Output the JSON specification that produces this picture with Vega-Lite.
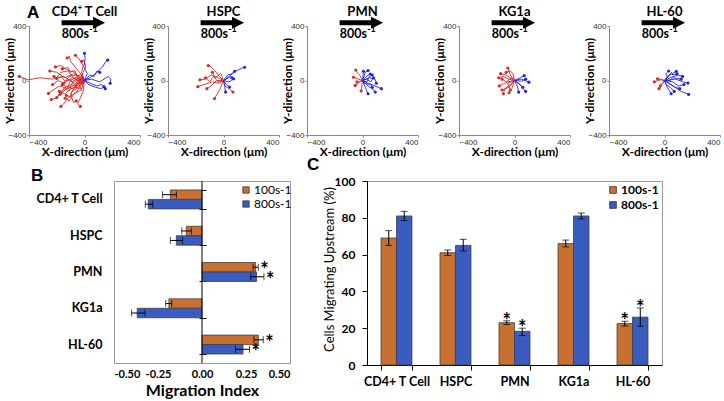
{
"$schema":"https://vega.github.io/schema/vega-lite/v6.json",
"background":"white",
"padding":{"left":3,"top":3,"right":0,"bottom":0},
"config":{"view":{"stroke":null},"font":"Lato","axis":{"grid":false,"labelOverlap":false},"title":{"color":"black"}},
"title":{"text":"A","anchor":"start","frame":"group","dx":-2,"dy":29,"baseline":"alphabetic","fontSize":17,"fontWeight":"bold","font":"Liberation Sans","offset":0},
"datasets":{
"tracks":[
{"p":"CD4","t":1,"i":0,"x":0,"y":0,"c":"r"},{"p":"CD4","t":1,"i":1,"x":-40,"y":20,"c":"r"},{"p":"CD4","t":1,"i":2,"x":-90,"y":-10,"c":"r"},{"p":"CD4","t":1,"i":3,"x":-150,"y":30,"c":"r"},{"p":"CD4","t":1,"i":4,"x":-230,"y":10,"c":"r"},{"p":"CD4","t":1,"i":5,"x":-320,"y":20,"c":"r"},{"p":"CD4","t":1,"i":6,"x":-410,"y":5,"c":"r"},{"p":"CD4","t":1,"i":7,"x":-470,"y":30,"c":"r","e":1},
{"p":"CD4","t":2,"i":0,"x":0,"y":0,"c":"r"},{"p":"CD4","t":2,"i":1,"x":-30,"y":-40,"c":"r"},{"p":"CD4","t":2,"i":2,"x":-60,"y":-90,"c":"r"},{"p":"CD4","t":2,"i":3,"x":-110,"y":-120,"c":"r"},{"p":"CD4","t":2,"i":4,"x":-150,"y":-170,"c":"r"},{"p":"CD4","t":2,"i":5,"x":-170,"y":-190,"c":"r","e":1},
{"p":"CD4","t":3,"i":0,"x":0,"y":0,"c":"r"},{"p":"CD4","t":3,"i":1,"x":-20,"y":40,"c":"r"},{"p":"CD4","t":3,"i":2,"x":-60,"y":90,"c":"r"},{"p":"CD4","t":3,"i":3,"x":-100,"y":140,"c":"r"},{"p":"CD4","t":3,"i":4,"x":-110,"y":180,"c":"r"},{"p":"CD4","t":3,"i":5,"x":-125,"y":165,"c":"r","e":1},
{"p":"CD4","t":4,"i":0,"x":0,"y":0,"c":"r"},{"p":"CD4","t":4,"i":1,"x":-50,"y":-20,"c":"r"},{"p":"CD4","t":4,"i":2,"x":-120,"y":-60,"c":"r"},{"p":"CD4","t":4,"i":3,"x":-180,"y":-40,"c":"r"},{"p":"CD4","t":4,"i":4,"x":-240,"y":-80,"c":"r"},{"p":"CD4","t":4,"i":5,"x":-260,"y":-95,"c":"r","e":1},
{"p":"CD4","t":5,"i":0,"x":0,"y":0,"c":"r"},{"p":"CD4","t":5,"i":1,"x":-30,"y":30,"c":"r"},{"p":"CD4","t":5,"i":2,"x":-80,"y":50,"c":"r"},{"p":"CD4","t":5,"i":3,"x":-140,"y":20,"c":"r"},{"p":"CD4","t":5,"i":4,"x":-200,"y":60,"c":"r"},{"p":"CD4","t":5,"i":5,"x":-250,"y":70,"c":"r","e":1},
{"p":"CD4","t":6,"i":0,"x":0,"y":0,"c":"r"},{"p":"CD4","t":6,"i":1,"x":-20,"y":-60,"c":"r"},{"p":"CD4","t":6,"i":2,"x":-70,"y":-50,"c":"r"},{"p":"CD4","t":6,"i":3,"x":-100,"y":-100,"c":"r"},{"p":"CD4","t":6,"i":4,"x":-80,"y":-160,"c":"r"},{"p":"CD4","t":6,"i":5,"x":-60,"y":-150,"c":"r","e":1},
{"p":"CD4","t":7,"i":0,"x":0,"y":0,"c":"r"},{"p":"CD4","t":7,"i":1,"x":-40,"y":10,"c":"r"},{"p":"CD4","t":7,"i":2,"x":-70,"y":60,"c":"r"},{"p":"CD4","t":7,"i":3,"x":-130,"y":80,"c":"r"},{"p":"CD4","t":7,"i":4,"x":-170,"y":110,"c":"r"},{"p":"CD4","t":7,"i":5,"x":-210,"y":100,"c":"r","e":1},
{"p":"CD4","t":8,"i":0,"x":0,"y":0,"c":"r"},{"p":"CD4","t":8,"i":1,"x":-10,"y":-30,"c":"r"},{"p":"CD4","t":8,"i":2,"x":-40,"y":-20,"c":"r"},{"p":"CD4","t":8,"i":3,"x":-90,"y":-60,"c":"r"},{"p":"CD4","t":8,"i":4,"x":-130,"y":-40,"c":"r"},{"p":"CD4","t":8,"i":5,"x":-190,"y":-110,"c":"r"},{"p":"CD4","t":8,"i":6,"x":-200,"y":-125,"c":"r","e":1},
{"p":"CD4","t":9,"i":0,"x":0,"y":0,"c":"r"},{"p":"CD4","t":9,"i":1,"x":-20,"y":60,"c":"r"},{"p":"CD4","t":9,"i":2,"x":-10,"y":110,"c":"r"},{"p":"CD4","t":9,"i":3,"x":-40,"y":160,"c":"r"},{"p":"CD4","t":9,"i":4,"x":-65,"y":185,"c":"r","e":1},
{"p":"CD4","t":10,"i":0,"x":0,"y":0,"c":"r"},{"p":"CD4","t":10,"i":1,"x":-60,"y":0,"c":"r"},{"p":"CD4","t":10,"i":2,"x":-100,"y":-30,"c":"r"},{"p":"CD4","t":10,"i":3,"x":-160,"y":-90,"c":"r"},{"p":"CD4","t":10,"i":4,"x":-210,"y":-130,"c":"r"},{"p":"CD4","t":10,"i":5,"x":-240,"y":-140,"c":"r","e":1},
{"p":"CD4","t":11,"i":0,"x":0,"y":0,"c":"r"},{"p":"CD4","t":11,"i":1,"x":-30,"y":-10,"c":"r"},{"p":"CD4","t":11,"i":2,"x":-50,"y":30,"c":"r"},{"p":"CD4","t":11,"i":3,"x":-100,"y":0,"c":"r"},{"p":"CD4","t":11,"i":4,"x":-120,"y":-50,"c":"r"},{"p":"CD4","t":11,"i":5,"x":-160,"y":-30,"c":"r","e":1},
{"p":"CD4","t":12,"i":0,"x":0,"y":0,"c":"r"},{"p":"CD4","t":12,"i":1,"x":-10,"y":-80,"c":"r"},{"p":"CD4","t":12,"i":2,"x":-30,"y":-130,"c":"r"},{"p":"CD4","t":12,"i":3,"x":-50,"y":-170,"c":"r"},{"p":"CD4","t":12,"i":4,"x":-30,"y":-190,"c":"r","e":1},
{"p":"CD4","t":13,"i":0,"x":0,"y":0,"c":"r"},{"p":"CD4","t":13,"i":1,"x":-80,"y":20,"c":"r"},{"p":"CD4","t":13,"i":2,"x":-120,"y":70,"c":"r"},{"p":"CD4","t":13,"i":3,"x":-170,"y":60,"c":"r"},{"p":"CD4","t":13,"i":4,"x":-200,"y":20,"c":"r"},{"p":"CD4","t":13,"i":5,"x":-220,"y":30,"c":"r","e":1},
{"p":"CD4","t":14,"i":0,"x":0,"y":0,"c":"r"},{"p":"CD4","t":14,"i":1,"x":-20,"y":20,"c":"r"},{"p":"CD4","t":14,"i":2,"x":-10,"y":60,"c":"r"},{"p":"CD4","t":14,"i":3,"x":10,"y":100,"c":"r"},{"p":"CD4","t":14,"i":4,"x":-5,"y":150,"c":"r"},{"p":"CD4","t":14,"i":5,"x":-20,"y":140,"c":"r","e":1},
{"p":"CD4","t":15,"i":0,"x":0,"y":0,"c":"r"},{"p":"CD4","t":15,"i":1,"x":-50,"y":-50,"c":"r"},{"p":"CD4","t":15,"i":2,"x":-100,"y":-60,"c":"r"},{"p":"CD4","t":15,"i":3,"x":-140,"y":-100,"c":"r"},{"p":"CD4","t":15,"i":4,"x":-180,"y":-80,"c":"r","e":1},
{"p":"CD4","t":16,"i":0,"x":0,"y":0,"c":"r"},{"p":"CD4","t":16,"i":1,"x":-20,"y":-10,"c":"r"},{"p":"CD4","t":16,"i":2,"x":-90,"y":20,"c":"r"},{"p":"CD4","t":16,"i":3,"x":-130,"y":-10,"c":"r"},{"p":"CD4","t":16,"i":4,"x":-150,"y":-20,"c":"r","e":1},
{"p":"CD4","t":17,"i":0,"x":0,"y":0,"c":"r"},{"p":"CD4","t":17,"i":1,"x":-40,"y":-30,"c":"r"},{"p":"CD4","t":17,"i":2,"x":-20,"y":-70,"c":"r"},{"p":"CD4","t":17,"i":3,"x":-70,"y":-90,"c":"r"},{"p":"CD4","t":17,"i":4,"x":-110,"y":-150,"c":"r"},{"p":"CD4","t":17,"i":5,"x":-140,"y":-130,"c":"r","e":1},
{"p":"CD4","t":18,"i":0,"x":0,"y":0,"c":"r"},{"p":"CD4","t":18,"i":1,"x":-60,"y":40,"c":"r"},{"p":"CD4","t":18,"i":2,"x":-110,"y":30,"c":"r"},{"p":"CD4","t":18,"i":3,"x":-150,"y":-20,"c":"r"},{"p":"CD4","t":18,"i":4,"x":-190,"y":0,"c":"r"},{"p":"CD4","t":18,"i":5,"x":-230,"y":-30,"c":"r","e":1},
{"p":"CD4","t":19,"i":0,"x":0,"y":0,"c":"r"},{"p":"CD4","t":19,"i":1,"x":-25,"y":15,"c":"r"},{"p":"CD4","t":19,"i":2,"x":-15,"y":45,"c":"r"},{"p":"CD4","t":19,"i":3,"x":-55,"y":35,"c":"r"},{"p":"CD4","t":19,"i":4,"x":-70,"y":75,"c":"r"},{"p":"CD4","t":19,"i":5,"x":-105,"y":60,"c":"r"},{"p":"CD4","t":19,"i":6,"x":-120,"y":95,"c":"r"},{"p":"CD4","t":19,"i":7,"x":-160,"y":85,"c":"r","e":1},
{"p":"CD4","t":20,"i":0,"x":0,"y":0,"c":"r"},{"p":"CD4","t":20,"i":1,"x":-15,"y":-20,"c":"r"},{"p":"CD4","t":20,"i":2,"x":-45,"y":-5,"c":"r"},{"p":"CD4","t":20,"i":3,"x":-60,"y":-45,"c":"r"},{"p":"CD4","t":20,"i":4,"x":-95,"y":-30,"c":"r"},{"p":"CD4","t":20,"i":5,"x":-110,"y":-75,"c":"r"},{"p":"CD4","t":20,"i":6,"x":-150,"y":-60,"c":"r"},{"p":"CD4","t":20,"i":7,"x":-175,"y":-100,"c":"r","e":1},
{"p":"CD4","t":40,"i":0,"x":0,"y":0,"c":"r"},{"p":"CD4","t":40,"i":1,"x":-35,"y":-5,"c":"r"},{"p":"CD4","t":40,"i":2,"x":-50,"y":-40,"c":"r"},{"p":"CD4","t":40,"i":3,"x":-85,"y":-20,"c":"r"},{"p":"CD4","t":40,"i":4,"x":-100,"y":10,"c":"r"},{"p":"CD4","t":40,"i":5,"x":-140,"y":-5,"c":"r"},{"p":"CD4","t":40,"i":6,"x":-165,"y":30,"c":"r"},{"p":"CD4","t":40,"i":7,"x":-200,"y":15,"c":"r","e":1},
{"p":"CD4","t":41,"i":0,"x":0,"y":0,"c":"r"},{"p":"CD4","t":41,"i":1,"x":-10,"y":25,"c":"r"},{"p":"CD4","t":41,"i":2,"x":-40,"y":10,"c":"r"},{"p":"CD4","t":41,"i":3,"x":-65,"y":-25,"c":"r"},{"p":"CD4","t":41,"i":4,"x":-55,"y":-60,"c":"r"},{"p":"CD4","t":41,"i":5,"x":-90,"y":-80,"c":"r"},{"p":"CD4","t":41,"i":6,"x":-100,"y":-120,"c":"r"},{"p":"CD4","t":41,"i":7,"x":-130,"y":-110,"c":"r","e":1},
{"p":"CD4","t":21,"i":0,"x":0,"y":0,"c":"b"},{"p":"CD4","t":21,"i":1,"x":20,"y":50,"c":"b"},{"p":"CD4","t":21,"i":2,"x":-5,"y":100,"c":"b"},{"p":"CD4","t":21,"i":3,"x":5,"y":160,"c":"b"},{"p":"CD4","t":21,"i":4,"x":0,"y":200,"c":"b","e":1},
{"p":"CD4","t":22,"i":0,"x":0,"y":0,"c":"b"},{"p":"CD4","t":22,"i":1,"x":40,"y":20,"c":"b"},{"p":"CD4","t":22,"i":2,"x":90,"y":60,"c":"b"},{"p":"CD4","t":22,"i":3,"x":130,"y":100,"c":"b"},{"p":"CD4","t":22,"i":4,"x":160,"y":150,"c":"b"},{"p":"CD4","t":22,"i":5,"x":168,"y":150,"c":"b","e":1},
{"p":"CD4","t":23,"i":0,"x":0,"y":0,"c":"b"},{"p":"CD4","t":23,"i":1,"x":50,"y":10,"c":"b"},{"p":"CD4","t":23,"i":2,"x":110,"y":-10,"c":"b"},{"p":"CD4","t":23,"i":3,"x":170,"y":30,"c":"b"},{"p":"CD4","t":23,"i":4,"x":190,"y":10,"c":"b"},{"p":"CD4","t":23,"i":5,"x":185,"y":-20,"c":"b","e":1},
{"p":"CD4","t":24,"i":0,"x":0,"y":0,"c":"b"},{"p":"CD4","t":24,"i":1,"x":40,"y":-20,"c":"b"},{"p":"CD4","t":24,"i":2,"x":90,"y":-40,"c":"b"},{"p":"CD4","t":24,"i":3,"x":120,"y":-30,"c":"b"},{"p":"CD4","t":24,"i":4,"x":150,"y":-60,"c":"b","e":1},
{"p":"CD4","t":25,"i":0,"x":0,"y":0,"c":"b"},{"p":"CD4","t":25,"i":1,"x":30,"y":-30,"c":"b"},{"p":"CD4","t":25,"i":2,"x":80,"y":-50,"c":"b"},{"p":"CD4","t":25,"i":3,"x":120,"y":-60,"c":"b"},{"p":"CD4","t":25,"i":4,"x":140,"y":-45,"c":"b","e":1},
{"p":"CD4","t":26,"i":0,"x":0,"y":0,"c":"b"},{"p":"CD4","t":26,"i":1,"x":40,"y":40,"c":"b"},{"p":"CD4","t":26,"i":2,"x":70,"y":30,"c":"b"},{"p":"CD4","t":26,"i":3,"x":90,"y":70,"c":"b"},{"p":"CD4","t":26,"i":4,"x":110,"y":60,"c":"b","e":1},
{"p":"HSPC","t":1,"i":0,"x":0,"y":0,"c":"r"},{"p":"HSPC","t":1,"i":1,"x":-40,"y":20,"c":"r"},{"p":"HSPC","t":1,"i":2,"x":-90,"y":40,"c":"r"},{"p":"HSPC","t":1,"i":3,"x":-130,"y":10,"c":"r"},{"p":"HSPC","t":1,"i":4,"x":-170,"y":5,"c":"r","e":1},
{"p":"HSPC","t":2,"i":0,"x":0,"y":0,"c":"r"},{"p":"HSPC","t":2,"i":1,"x":-30,"y":-20,"c":"r"},{"p":"HSPC","t":2,"i":2,"x":-80,"y":-10,"c":"r"},{"p":"HSPC","t":2,"i":3,"x":-140,"y":-30,"c":"r"},{"p":"HSPC","t":2,"i":4,"x":-185,"y":-45,"c":"r","e":1},
{"p":"HSPC","t":3,"i":0,"x":0,"y":0,"c":"r"},{"p":"HSPC","t":3,"i":1,"x":-20,"y":-50,"c":"r"},{"p":"HSPC","t":3,"i":2,"x":-40,"y":-90,"c":"r"},{"p":"HSPC","t":3,"i":3,"x":-65,"y":-133,"c":"r","e":1},
{"p":"HSPC","t":4,"i":0,"x":0,"y":0,"c":"r"},{"p":"HSPC","t":4,"i":1,"x":-30,"y":30,"c":"r"},{"p":"HSPC","t":4,"i":2,"x":-60,"y":70,"c":"r"},{"p":"HSPC","t":4,"i":3,"x":-90,"y":100,"c":"r"},{"p":"HSPC","t":4,"i":4,"x":-110,"y":110,"c":"r","e":1},
{"p":"HSPC","t":5,"i":0,"x":0,"y":0,"c":"r"},{"p":"HSPC","t":5,"i":1,"x":-50,"y":0,"c":"r"},{"p":"HSPC","t":5,"i":2,"x":-90,"y":-40,"c":"r"},{"p":"HSPC","t":5,"i":3,"x":-120,"y":-60,"c":"r","e":1},
{"p":"HSPC","t":6,"i":0,"x":0,"y":0,"c":"r"},{"p":"HSPC","t":6,"i":1,"x":10,"y":-40,"c":"r"},{"p":"HSPC","t":6,"i":2,"x":40,"y":-60,"c":"r"},{"p":"HSPC","t":6,"i":3,"x":68,"y":-85,"c":"r","e":1},
{"p":"HSPC","t":7,"i":0,"x":0,"y":0,"c":"r"},{"p":"HSPC","t":7,"i":1,"x":-20,"y":50,"c":"r"},{"p":"HSPC","t":7,"i":2,"x":-60,"y":20,"c":"r"},{"p":"HSPC","t":7,"i":3,"x":-80,"y":60,"c":"r","e":1},
{"p":"HSPC","t":8,"i":0,"x":0,"y":0,"c":"r"},{"p":"HSPC","t":8,"i":1,"x":-40,"y":-10,"c":"r"},{"p":"HSPC","t":8,"i":2,"x":-70,"y":30,"c":"r"},{"p":"HSPC","t":8,"i":3,"x":-100,"y":-10,"c":"r"},{"p":"HSPC","t":8,"i":4,"x":-130,"y":20,"c":"r","e":1},
{"p":"HSPC","t":21,"i":0,"x":0,"y":0,"c":"b"},{"p":"HSPC","t":21,"i":1,"x":40,"y":30,"c":"b"},{"p":"HSPC","t":21,"i":2,"x":90,"y":70,"c":"b"},{"p":"HSPC","t":21,"i":3,"x":130,"y":90,"c":"b"},{"p":"HSPC","t":21,"i":4,"x":152,"y":97,"c":"b","e":1},
{"p":"HSPC","t":22,"i":0,"x":0,"y":0,"c":"b"},{"p":"HSPC","t":22,"i":1,"x":30,"y":40,"c":"b"},{"p":"HSPC","t":22,"i":2,"x":60,"y":50,"c":"b"},{"p":"HSPC","t":22,"i":3,"x":80,"y":68,"c":"b","e":1},
{"p":"HSPC","t":23,"i":0,"x":0,"y":0,"c":"b"},{"p":"HSPC","t":23,"i":1,"x":40,"y":-10,"c":"b"},{"p":"HSPC","t":23,"i":2,"x":73,"y":12,"c":"b","e":1},
{"p":"HSPC","t":24,"i":0,"x":0,"y":0,"c":"b"},{"p":"HSPC","t":24,"i":1,"x":20,"y":-30,"c":"b"},{"p":"HSPC","t":24,"i":2,"x":44,"y":-48,"c":"b","e":1},
{"p":"HSPC","t":25,"i":0,"x":0,"y":0,"c":"b"},{"p":"HSPC","t":25,"i":1,"x":10,"y":-50,"c":"b"},{"p":"HSPC","t":25,"i":2,"x":15,"y":-85,"c":"b","e":1},
{"p":"HSPC","t":26,"i":0,"x":0,"y":0,"c":"b"},{"p":"HSPC","t":26,"i":1,"x":20,"y":10,"c":"b"},{"p":"HSPC","t":26,"i":2,"x":50,"y":30,"c":"b"},{"p":"HSPC","t":26,"i":3,"x":60,"y":20,"c":"b","e":1},
{"p":"PMN","t":1,"i":0,"x":0,"y":0,"c":"r"},{"p":"PMN","t":1,"i":1,"x":-20,"y":40,"c":"r"},{"p":"PMN","t":1,"i":2,"x":-40,"y":60,"c":"r"},{"p":"PMN","t":1,"i":3,"x":-48,"y":77,"c":"r","e":1},
{"p":"PMN","t":2,"i":0,"x":0,"y":0,"c":"r"},{"p":"PMN","t":2,"i":1,"x":-30,"y":10,"c":"r"},{"p":"PMN","t":2,"i":2,"x":-65,"y":24,"c":"r","e":1},
{"p":"PMN","t":3,"i":0,"x":0,"y":0,"c":"r"},{"p":"PMN","t":3,"i":1,"x":-30,"y":-20,"c":"r"},{"p":"PMN","t":3,"i":2,"x":-53,"y":-36,"c":"r","e":1},
{"p":"PMN","t":4,"i":0,"x":0,"y":0,"c":"r"},{"p":"PMN","t":4,"i":1,"x":-5,"y":-40,"c":"r"},{"p":"PMN","t":4,"i":2,"x":-10,"y":-77,"c":"r","e":1},
{"p":"PMN","t":5,"i":0,"x":0,"y":0,"c":"r"},{"p":"PMN","t":5,"i":1,"x":-20,"y":-5,"c":"r"},{"p":"PMN","t":5,"i":2,"x":-40,"y":-10,"c":"r","e":1},
{"p":"PMN","t":21,"i":0,"x":0,"y":0,"c":"b"},{"p":"PMN","t":21,"i":1,"x":40,"y":-20,"c":"b"},{"p":"PMN","t":21,"i":2,"x":90,"y":-40,"c":"b"},{"p":"PMN","t":21,"i":3,"x":136,"y":-60,"c":"b","e":1},
{"p":"PMN","t":22,"i":0,"x":0,"y":0,"c":"b"},{"p":"PMN","t":22,"i":1,"x":40,"y":-40,"c":"b"},{"p":"PMN","t":22,"i":2,"x":70,"y":-60,"c":"b"},{"p":"PMN","t":22,"i":3,"x":92,"y":-85,"c":"b","e":1},
{"p":"PMN","t":23,"i":0,"x":0,"y":0,"c":"b"},{"p":"PMN","t":23,"i":1,"x":30,"y":30,"c":"b"},{"p":"PMN","t":23,"i":2,"x":56,"y":48,"c":"b","e":1},
{"p":"PMN","t":24,"i":0,"x":0,"y":0,"c":"b"},{"p":"PMN","t":24,"i":1,"x":5,"y":40,"c":"b"},{"p":"PMN","t":24,"i":2,"x":7,"y":68,"c":"b","e":1},
{"p":"PMN","t":25,"i":0,"x":0,"y":0,"c":"b"},{"p":"PMN","t":25,"i":1,"x":30,"y":10,"c":"b"},{"p":"PMN","t":25,"i":2,"x":60,"y":-10,"c":"b"},{"p":"PMN","t":25,"i":3,"x":80,"y":20,"c":"b","e":1},
{"p":"PMN","t":26,"i":0,"x":0,"y":0,"c":"b"},{"p":"PMN","t":26,"i":1,"x":20,"y":-50,"c":"b"},{"p":"PMN","t":26,"i":2,"x":40,"y":-97,"c":"b","e":1},
{"p":"PMN","t":27,"i":0,"x":0,"y":0,"c":"b"},{"p":"PMN","t":27,"i":1,"x":50,"y":20,"c":"b"},{"p":"PMN","t":27,"i":2,"x":90,"y":10,"c":"b"},{"p":"PMN","t":27,"i":3,"x":100,"y":-20,"c":"b","e":1},
{"p":"PMN","t":28,"i":0,"x":0,"y":0,"c":"b"},{"p":"PMN","t":28,"i":1,"x":20,"y":60,"c":"b"},{"p":"PMN","t":28,"i":2,"x":40,"y":73,"c":"b","e":1},
{"p":"PMN","t":29,"i":0,"x":0,"y":0,"c":"b"},{"p":"PMN","t":29,"i":1,"x":10,"y":-20,"c":"b"},{"p":"PMN","t":29,"i":2,"x":60,"y":-30,"c":"b"},{"p":"PMN","t":29,"i":3,"x":70,"y":-50,"c":"b","e":1},
{"p":"PMN","t":30,"i":0,"x":0,"y":0,"c":"b"},{"p":"PMN","t":30,"i":1,"x":30,"y":-10,"c":"b"},{"p":"PMN","t":30,"i":2,"x":50,"y":30,"c":"b"},{"p":"PMN","t":30,"i":3,"x":70,"y":40,"c":"b","e":1},
{"p":"KG1a","t":1,"i":0,"x":0,"y":0,"c":"r"},{"p":"KG1a","t":1,"i":1,"x":-30,"y":40,"c":"r"},{"p":"KG1a","t":1,"i":2,"x":-48,"y":92,"c":"r","e":1},
{"p":"KG1a","t":2,"i":0,"x":0,"y":0,"c":"r"},{"p":"KG1a","t":2,"i":1,"x":-40,"y":10,"c":"r"},{"p":"KG1a","t":2,"i":2,"x":-80,"y":30,"c":"r"},{"p":"KG1a","t":2,"i":3,"x":-114,"y":20,"c":"r","e":1},
{"p":"KG1a","t":3,"i":0,"x":0,"y":0,"c":"r"},{"p":"KG1a","t":3,"i":1,"x":-30,"y":-30,"c":"r"},{"p":"KG1a","t":3,"i":2,"x":-70,"y":-60,"c":"r"},{"p":"KG1a","t":3,"i":3,"x":-80,"y":-97,"c":"r","e":1},
{"p":"KG1a","t":4,"i":0,"x":0,"y":0,"c":"r"},{"p":"KG1a","t":4,"i":1,"x":-50,"y":-10,"c":"r"},{"p":"KG1a","t":4,"i":2,"x":-90,"y":-30,"c":"r"},{"p":"KG1a","t":4,"i":3,"x":-110,"y":-40,"c":"r","e":1},
{"p":"KG1a","t":5,"i":0,"x":0,"y":0,"c":"r"},{"p":"KG1a","t":5,"i":1,"x":-20,"y":-60,"c":"r"},{"p":"KG1a","t":5,"i":2,"x":-40,"y":-90,"c":"r","e":1},
{"p":"KG1a","t":6,"i":0,"x":0,"y":0,"c":"r"},{"p":"KG1a","t":6,"i":1,"x":-60,"y":40,"c":"r"},{"p":"KG1a","t":6,"i":2,"x":-100,"y":50,"c":"r","e":1},
{"p":"KG1a","t":7,"i":0,"x":0,"y":0,"c":"r"},{"p":"KG1a","t":7,"i":1,"x":-40,"y":-50,"c":"r"},{"p":"KG1a","t":7,"i":2,"x":-90,"y":-70,"c":"r","e":1},
{"p":"KG1a","t":8,"i":0,"x":0,"y":0,"c":"r"},{"p":"KG1a","t":8,"i":1,"x":-20,"y":20,"c":"r"},{"p":"KG1a","t":8,"i":2,"x":-60,"y":-10,"c":"r"},{"p":"KG1a","t":8,"i":3,"x":-90,"y":10,"c":"r","e":1},
{"p":"KG1a","t":9,"i":0,"x":0,"y":0,"c":"r"},{"p":"KG1a","t":9,"i":1,"x":-10,"y":50,"c":"r"},{"p":"KG1a","t":9,"i":2,"x":-30,"y":70,"c":"r"},{"p":"KG1a","t":9,"i":3,"x":-60,"y":60,"c":"r","e":1},
{"p":"KG1a","t":10,"i":0,"x":0,"y":0,"c":"r"},{"p":"KG1a","t":10,"i":1,"x":-50,"y":-20,"c":"r"},{"p":"KG1a","t":10,"i":2,"x":-30,"y":-70,"c":"r","e":1},
{"p":"KG1a","t":21,"i":0,"x":0,"y":0,"c":"b"},{"p":"KG1a","t":21,"i":1,"x":40,"y":-30,"c":"b"},{"p":"KG1a","t":21,"i":2,"x":80,"y":-80,"c":"b","e":1},
{"p":"KG1a","t":22,"i":0,"x":0,"y":0,"c":"b"},{"p":"KG1a","t":22,"i":1,"x":50,"y":10,"c":"b"},{"p":"KG1a","t":22,"i":2,"x":104,"y":-12,"c":"b","e":1},
{"p":"KG1a","t":23,"i":0,"x":0,"y":0,"c":"b"},{"p":"KG1a","t":23,"i":1,"x":40,"y":20,"c":"b"},{"p":"KG1a","t":23,"i":2,"x":70,"y":36,"c":"b","e":1},
{"p":"KG1a","t":24,"i":0,"x":0,"y":0,"c":"b"},{"p":"KG1a","t":24,"i":1,"x":30,"y":-20,"c":"b"},{"p":"KG1a","t":24,"i":2,"x":60,"y":-50,"c":"b","e":1},
{"p":"KG1a","t":25,"i":0,"x":0,"y":0,"c":"b"},{"p":"KG1a","t":25,"i":1,"x":20,"y":-40,"c":"b"},{"p":"KG1a","t":25,"i":2,"x":30,"y":-85,"c":"b","e":1},
{"p":"KG1a","t":26,"i":0,"x":0,"y":0,"c":"b"},{"p":"KG1a","t":26,"i":1,"x":50,"y":-5,"c":"b"},{"p":"KG1a","t":26,"i":2,"x":80,"y":10,"c":"b","e":1},
{"p":"HL60","t":1,"i":0,"x":0,"y":0,"c":"r"},{"p":"HL60","t":1,"i":1,"x":-30,"y":5,"c":"r"},{"p":"HL60","t":1,"i":2,"x":-73,"y":-10,"c":"r","e":1},
{"p":"HL60","t":2,"i":0,"x":0,"y":0,"c":"r"},{"p":"HL60","t":2,"i":1,"x":-20,"y":-30,"c":"r"},{"p":"HL60","t":2,"i":2,"x":-40,"y":-60,"c":"r","e":1},
{"p":"HL60","t":3,"i":0,"x":0,"y":0,"c":"r"},{"p":"HL60","t":3,"i":1,"x":-30,"y":10,"c":"r"},{"p":"HL60","t":3,"i":2,"x":-50,"y":12,"c":"r","e":1},
{"p":"HL60","t":4,"i":0,"x":0,"y":0,"c":"r"},{"p":"HL60","t":4,"i":1,"x":-10,"y":-20,"c":"r"},{"p":"HL60","t":4,"i":2,"x":-30,"y":-40,"c":"r","e":1},
{"p":"HL60","t":21,"i":0,"x":0,"y":0,"c":"b"},{"p":"HL60","t":21,"i":1,"x":60,"y":-40,"c":"b"},{"p":"HL60","t":21,"i":2,"x":120,"y":-80,"c":"b"},{"p":"HL60","t":21,"i":3,"x":174,"y":-102,"c":"b","e":1},
{"p":"HL60","t":22,"i":0,"x":0,"y":0,"c":"b"},{"p":"HL60","t":22,"i":1,"x":80,"y":10,"c":"b"},{"p":"HL60","t":22,"i":2,"x":130,"y":-10,"c":"b"},{"p":"HL60","t":22,"i":3,"x":169,"y":-19,"c":"b","e":1},
{"p":"HL60","t":23,"i":0,"x":0,"y":0,"c":"b"},{"p":"HL60","t":23,"i":1,"x":40,"y":40,"c":"b"},{"p":"HL60","t":23,"i":2,"x":85,"y":68,"c":"b","e":1},
{"p":"HL60","t":24,"i":0,"x":0,"y":0,"c":"b"},{"p":"HL60","t":24,"i":1,"x":20,"y":-50,"c":"b"},{"p":"HL60","t":24,"i":2,"x":48,"y":-97,"c":"b","e":1},
{"p":"HL60","t":25,"i":0,"x":0,"y":0,"c":"b"},{"p":"HL60","t":25,"i":1,"x":40,"y":20,"c":"b"},{"p":"HL60","t":25,"i":2,"x":100,"y":40,"c":"b"},{"p":"HL60","t":25,"i":3,"x":130,"y":30,"c":"b","e":1},
{"p":"HL60","t":26,"i":0,"x":0,"y":0,"c":"b"},{"p":"HL60","t":26,"i":1,"x":30,"y":-20,"c":"b"},{"p":"HL60","t":26,"i":2,"x":80,"y":-50,"c":"b"},{"p":"HL60","t":26,"i":3,"x":110,"y":-60,"c":"b","e":1},
{"p":"HL60","t":27,"i":0,"x":0,"y":0,"c":"b"},{"p":"HL60","t":27,"i":1,"x":50,"y":60,"c":"b"},{"p":"HL60","t":27,"i":2,"x":60,"y":40,"c":"b"},{"p":"HL60","t":27,"i":3,"x":90,"y":50,"c":"b","e":1},
{"p":"HL60","t":28,"i":0,"x":0,"y":0,"c":"b"},{"p":"HL60","t":28,"i":1,"x":20,"y":30,"c":"b"},{"p":"HL60","t":28,"i":2,"x":10,"y":50,"c":"b"},{"p":"HL60","t":28,"i":3,"x":30,"y":70,"c":"b","e":1},
{"p":"HL60","t":29,"i":0,"x":0,"y":0,"c":"b"},{"p":"HL60","t":29,"i":1,"x":60,"y":-10,"c":"b"},{"p":"HL60","t":29,"i":2,"x":100,"y":-40,"c":"b"},{"p":"HL60","t":29,"i":3,"x":140,"y":-30,"c":"b","e":1},
{"p":"HL60","t":30,"i":0,"x":0,"y":0,"c":"b"},{"p":"HL60","t":30,"i":1,"x":10,"y":-30,"c":"b"},{"p":"HL60","t":30,"i":2,"x":40,"y":-50,"c":"b"},{"p":"HL60","t":30,"i":3,"x":70,"y":-80,"c":"b","e":1},
{"p":"HL60","t":31,"i":0,"x":0,"y":0,"c":"b"},{"p":"HL60","t":31,"i":1,"x":40,"y":0,"c":"b"},{"p":"HL60","t":31,"i":2,"x":60,"y":20,"c":"b"},{"p":"HL60","t":31,"i":3,"x":120,"y":10,"c":"b","e":1}
],
"cells":[
{"cell":"CD4+ T Cell","shear":"100s-1","mi":-0.18,"milo":-0.225,"mihi":-0.145,"pct":69,"pctlo":65,"pcthi":73,"star":""},
{"cell":"CD4+ T Cell","shear":"800s-1","mi":-0.305,"milo":-0.322,"mihi":-0.28,"pct":81,"pctlo":78.5,"pcthi":83.5,"star":""},
{"cell":"HSPC","shear":"100s-1","mi":-0.089,"milo":-0.115,"mihi":-0.06,"pct":61,"pctlo":59.5,"pcthi":62.5,"star":""},
{"cell":"HSPC","shear":"800s-1","mi":-0.146,"milo":-0.18,"mihi":-0.11,"pct":65,"pctlo":62,"pcthi":68.3,"star":""},
{"cell":"PMN","shear":"100s-1","mi":0.305,"milo":0.29,"mihi":0.32,"pct":23,"pctlo":22,"pcthi":24,"star":"*"},
{"cell":"PMN","shear":"800s-1","mi":0.31,"milo":0.277,"mihi":0.352,"pct":18.3,"pctlo":16,"pcthi":20,"star":"*"},
{"cell":"KG1a","shear":"100s-1","mi":-0.188,"milo":-0.206,"mihi":-0.172,"pct":66,"pctlo":64.2,"pcthi":67.9,"star":""},
{"cell":"KG1a","shear":"800s-1","mi":-0.368,"milo":-0.4,"mihi":-0.324,"pct":81,"pctlo":79.4,"pcthi":82.6,"star":""},
{"cell":"HL-60","shear":"100s-1","mi":0.32,"milo":0.295,"mihi":0.348,"pct":22.5,"pctlo":21.2,"pcthi":23.8,"star":"*"},
{"cell":"HL-60","shear":"800s-1","mi":0.233,"milo":0.19,"mihi":0.27,"pct":26,"pctlo":21,"pcthi":31,"star":"*"}
]
},
"vconcat":[
{"hconcat":[
 {"hconcat":[
  {"width":111,"height":109,"title":{"text":"CD4⁺ T Cell","fontSize":13,"fontWeight":"bold","offset":-2},
   "layer":[
    {"data":{"name":"tracks"},"transform":[{"filter":"datum.p=='CD4'"}],"mark":{"type":"line","strokeWidth":0.9,"clip":false},
     "encoding":{"x":{"field":"x","type":"quantitative","scale":{"domain":[-400,400],"nice":false,"zero":false},"axis":{"values":[-400,0,400],"title":"X-direction (μm)","titleFontSize":12,"titleFontWeight":"bold","titleColor":"black","labelFontSize":8,"labelFont":"Liberation Sans","labelColor":"#333","domainColor":"#888","tickColor":"#888","tickSize":2,"labelPadding":1,"titlePadding":0}},
      "y":{"field":"y","type":"quantitative","scale":{"domain":[-400,400],"nice":false,"zero":false},"axis":{"values":[-400,0,400],"title":"Y-direction (μm)","titleX":-13,"titleFontSize":12,"titleFontWeight":"bold","titleColor":"black","labelFontSize":8,"labelFont":"Liberation Sans","labelColor":"#333","domainColor":"#888","tickColor":"#888","tickSize":2,"labelPadding":1}},
      "detail":{"field":"t"},"order":{"field":"i"},
      "color":{"field":"c","type":"nominal","scale":{"domain":["r","b"],"range":["#D42A2A","#2424E6"]},"legend":null}}},
    {"data":{"name":"tracks"},"transform":[{"filter":"datum.p=='CD4' && datum.e==1"}],"mark":{"type":"circle","size":10,"opacity":1},
     "encoding":{"x":{"field":"x","type":"quantitative"},"y":{"field":"y","type":"quantitative"},"color":{"field":"c","type":"nominal","legend":null}}},
    {"data":{"values":[{}]},"mark":{"type":"rule","strokeWidth":5,"color":"black"},"encoding":{"x":{"datum":-165},"x2":{"datum":95},"y":{"datum":424}}},
    {"data":{"values":[{}]},"mark":{"type":"point","shape":"M-1,-1L1,0L-1,1Z","size":144,"filled":true,"color":"black","opacity":1},"encoding":{"x":{"datum":105},"y":{"datum":424}}},
    {"data":{"values":[{}]},"mark":{"type":"text","text":"800s","align":"right","baseline":"alphabetic","fontSize":12.5,"fontWeight":"bold","color":"black"},"encoding":{"x":{"datum":32},"y":{"datum":312}}},
    {"data":{"values":[{}]},"mark":{"type":"text","text":"-1","align":"left","baseline":"alphabetic","fontSize":9,"fontWeight":"bold","color":"black"},"encoding":{"x":{"datum":34},"y":{"datum":356}}}
   ]},
   {"width":111,"height":109,"title":{"text":"HSPC","fontSize":13,"fontWeight":"bold","offset":-2},
    "layer":[
     {"data":{"name":"tracks"},"transform":[{"filter":"datum.p=='HSPC'"}],"mark":{"type":"line","strokeWidth":0.9,"clip":false},
      "encoding":{"x":{"field":"x","type":"quantitative","scale":{"domain":[-400,400],"nice":false,"zero":false},"axis":{"values":[-400,0,400],"title":"X-direction (μm)","titleFontSize":12,"titleFontWeight":"bold","titleColor":"black","labelFontSize":8,"labelFont":"Liberation Sans","labelColor":"#333","domainColor":"#888","tickColor":"#888","tickSize":2,"labelPadding":1,"titlePadding":0}},
       "y":{"field":"y","type":"quantitative","scale":{"domain":[-400,400],"nice":false,"zero":false},"axis":{"values":[-400,0,400],"title":"Y-direction (μm)","titleX":-13,"titleFontSize":12,"titleFontWeight":"bold","titleColor":"black","labelFontSize":8,"labelFont":"Liberation Sans","labelColor":"#333","domainColor":"#888","tickColor":"#888","tickSize":2,"labelPadding":1}},
       "detail":{"field":"t"},"order":{"field":"i"},
       "color":{"field":"c","type":"nominal","scale":{"domain":["r","b"],"range":["#D42A2A","#2424E6"]},"legend":null}}},
     {"data":{"name":"tracks"},"transform":[{"filter":"datum.p=='HSPC' && datum.e==1"}],"mark":{"type":"circle","size":10,"opacity":1},
      "encoding":{"x":{"field":"x","type":"quantitative"},"y":{"field":"y","type":"quantitative"},"color":{"field":"c","type":"nominal","legend":null}}},
     {"data":{"values":[{}]},"mark":{"type":"rule","strokeWidth":5,"color":"black"},"encoding":{"x":{"datum":-165},"x2":{"datum":95},"y":{"datum":424}}},
     {"data":{"values":[{}]},"mark":{"type":"point","shape":"M-1,-1L1,0L-1,1Z","size":144,"filled":true,"color":"black","opacity":1},"encoding":{"x":{"datum":105},"y":{"datum":424}}},
     {"data":{"values":[{}]},"mark":{"type":"text","text":"800s","align":"right","baseline":"alphabetic","fontSize":12.5,"fontWeight":"bold","color":"black"},"encoding":{"x":{"datum":32},"y":{"datum":312}}},
     {"data":{"values":[{}]},"mark":{"type":"text","text":"-1","align":"left","baseline":"alphabetic","fontSize":9,"fontWeight":"bold","color":"black"},"encoding":{"x":{"datum":34},"y":{"datum":356}}}
    ]},
   {"width":111,"height":109,"title":{"text":"PMN","fontSize":13,"fontWeight":"bold","offset":-2},
    "layer":[
     {"data":{"name":"tracks"},"transform":[{"filter":"datum.p=='PMN'"}],"mark":{"type":"line","strokeWidth":0.9,"clip":false},
      "encoding":{"x":{"field":"x","type":"quantitative","scale":{"domain":[-400,400],"nice":false,"zero":false},"axis":{"values":[-400,0,400],"title":"X-direction (μm)","titleFontSize":12,"titleFontWeight":"bold","titleColor":"black","labelFontSize":8,"labelFont":"Liberation Sans","labelColor":"#333","domainColor":"#888","tickColor":"#888","tickSize":2,"labelPadding":1,"titlePadding":0}},
       "y":{"field":"y","type":"quantitative","scale":{"domain":[-400,400],"nice":false,"zero":false},"axis":{"values":[-400,0,400],"title":"Y-direction (μm)","titleX":-13,"titleFontSize":12,"titleFontWeight":"bold","titleColor":"black","labelFontSize":8,"labelFont":"Liberation Sans","labelColor":"#333","domainColor":"#888","tickColor":"#888","tickSize":2,"labelPadding":1}},
       "detail":{"field":"t"},"order":{"field":"i"},
       "color":{"field":"c","type":"nominal","scale":{"domain":["r","b"],"range":["#D42A2A","#2424E6"]},"legend":null}}},
     {"data":{"name":"tracks"},"transform":[{"filter":"datum.p=='PMN' && datum.e==1"}],"mark":{"type":"circle","size":10,"opacity":1},
      "encoding":{"x":{"field":"x","type":"quantitative"},"y":{"field":"y","type":"quantitative"},"color":{"field":"c","type":"nominal","legend":null}}},
     {"data":{"values":[{}]},"mark":{"type":"rule","strokeWidth":5,"color":"black"},"encoding":{"x":{"datum":-165},"x2":{"datum":95},"y":{"datum":424}}},
     {"data":{"values":[{}]},"mark":{"type":"point","shape":"M-1,-1L1,0L-1,1Z","size":144,"filled":true,"color":"black","opacity":1},"encoding":{"x":{"datum":105},"y":{"datum":424}}},
     {"data":{"values":[{}]},"mark":{"type":"text","text":"800s","align":"right","baseline":"alphabetic","fontSize":12.5,"fontWeight":"bold","color":"black"},"encoding":{"x":{"datum":32},"y":{"datum":312}}},
     {"data":{"values":[{}]},"mark":{"type":"text","text":"-1","align":"left","baseline":"alphabetic","fontSize":9,"fontWeight":"bold","color":"black"},"encoding":{"x":{"datum":34},"y":{"datum":356}}}
    ]}
 ],"spacing":28,"bounds":"flush","resolve":{"scale":{"color":"independent"}}},
 {"hconcat":[
   {"width":111,"height":109,"title":{"text":"KG1a","fontSize":13,"fontWeight":"bold","offset":-2},
    "layer":[
     {"data":{"name":"tracks"},"transform":[{"filter":"datum.p=='KG1a'"}],"mark":{"type":"line","strokeWidth":0.9,"clip":false},
      "encoding":{"x":{"field":"x","type":"quantitative","scale":{"domain":[-400,400],"nice":false,"zero":false},"axis":{"values":[-400,0,400],"title":"X-direction (μm)","titleFontSize":12,"titleFontWeight":"bold","titleColor":"black","labelFontSize":8,"labelFont":"Liberation Sans","labelColor":"#333","domainColor":"#888","tickColor":"#888","tickSize":2,"labelPadding":1,"titlePadding":0}},
       "y":{"field":"y","type":"quantitative","scale":{"domain":[-400,400],"nice":false,"zero":false},"axis":{"values":[-400,0,400],"title":"Y-direction (μm)","titleX":-13,"titleFontSize":12,"titleFontWeight":"bold","titleColor":"black","labelFontSize":8,"labelFont":"Liberation Sans","labelColor":"#333","domainColor":"#888","tickColor":"#888","tickSize":2,"labelPadding":1}},
       "detail":{"field":"t"},"order":{"field":"i"},
       "color":{"field":"c","type":"nominal","scale":{"domain":["r","b"],"range":["#D42A2A","#2424E6"]},"legend":null}}},
     {"data":{"name":"tracks"},"transform":[{"filter":"datum.p=='KG1a' && datum.e==1"}],"mark":{"type":"circle","size":10,"opacity":1},
      "encoding":{"x":{"field":"x","type":"quantitative"},"y":{"field":"y","type":"quantitative"},"color":{"field":"c","type":"nominal","legend":null}}},
     {"data":{"values":[{}]},"mark":{"type":"rule","strokeWidth":5,"color":"black"},"encoding":{"x":{"datum":-165},"x2":{"datum":95},"y":{"datum":424}}},
     {"data":{"values":[{}]},"mark":{"type":"point","shape":"M-1,-1L1,0L-1,1Z","size":144,"filled":true,"color":"black","opacity":1},"encoding":{"x":{"datum":105},"y":{"datum":424}}},
     {"data":{"values":[{}]},"mark":{"type":"text","text":"800s","align":"right","baseline":"alphabetic","fontSize":12.5,"fontWeight":"bold","color":"black"},"encoding":{"x":{"datum":32},"y":{"datum":312}}},
     {"data":{"values":[{}]},"mark":{"type":"text","text":"-1","align":"left","baseline":"alphabetic","fontSize":9,"fontWeight":"bold","color":"black"},"encoding":{"x":{"datum":34},"y":{"datum":356}}}
    ]},
   {"width":111,"height":109,"title":{"text":"HL-60","fontSize":13,"fontWeight":"bold","offset":-2},
    "layer":[
     {"data":{"name":"tracks"},"transform":[{"filter":"datum.p=='HL60'"}],"mark":{"type":"line","strokeWidth":0.9,"clip":false},
      "encoding":{"x":{"field":"x","type":"quantitative","scale":{"domain":[-400,400],"nice":false,"zero":false},"axis":{"values":[-400,0,400],"title":"X-direction (μm)","titleFontSize":12,"titleFontWeight":"bold","titleColor":"black","labelFontSize":8,"labelFont":"Liberation Sans","labelColor":"#333","domainColor":"#888","tickColor":"#888","tickSize":2,"labelPadding":1,"titlePadding":0}},
       "y":{"field":"y","type":"quantitative","scale":{"domain":[-400,400],"nice":false,"zero":false},"axis":{"values":[-400,0,400],"title":"Y-direction (μm)","titleX":-13,"titleFontSize":12,"titleFontWeight":"bold","titleColor":"black","labelFontSize":8,"labelFont":"Liberation Sans","labelColor":"#333","domainColor":"#888","tickColor":"#888","tickSize":2,"labelPadding":1}},
       "detail":{"field":"t"},"order":{"field":"i"},
       "color":{"field":"c","type":"nominal","scale":{"domain":["r","b"],"range":["#D42A2A","#2424E6"]},"legend":null}}},
     {"data":{"name":"tracks"},"transform":[{"filter":"datum.p=='HL60' && datum.e==1"}],"mark":{"type":"circle","size":10,"opacity":1},
      "encoding":{"x":{"field":"x","type":"quantitative"},"y":{"field":"y","type":"quantitative"},"color":{"field":"c","type":"nominal","legend":null}}},
     {"data":{"values":[{}]},"mark":{"type":"rule","strokeWidth":5,"color":"black"},"encoding":{"x":{"datum":-165},"x2":{"datum":95},"y":{"datum":424}}},
     {"data":{"values":[{}]},"mark":{"type":"point","shape":"M-1,-1L1,0L-1,1Z","size":144,"filled":true,"color":"black","opacity":1},"encoding":{"x":{"datum":105},"y":{"datum":424}}},
     {"data":{"values":[{}]},"mark":{"type":"text","text":"800s","align":"right","baseline":"alphabetic","fontSize":12.5,"fontWeight":"bold","color":"black"},"encoding":{"x":{"datum":32},"y":{"datum":312}}},
     {"data":{"values":[{}]},"mark":{"type":"text","text":"-1","align":"left","baseline":"alphabetic","fontSize":9,"fontWeight":"bold","color":"black"},"encoding":{"x":{"datum":34},"y":{"datum":356}}}
    ]}
 ],"spacing":39,"bounds":"flush","resolve":{"scale":{"color":"independent"}}}
],"spacing":14,"resolve":{"scale":{"color":"independent"}}},
{"hconcat":[
  {"width":8,"height":184,"data":{"values":[]},"mark":"point"},
  {"width":176,"height":182,"view":{"stroke":"#999"},
   "title":{"text":"B","anchor":"start","frame":"group","dx":-83,"dy":17,"baseline":"alphabetic","fontSize":17,"fontWeight":"bold","font":"Liberation Sans","offset":0},
   "data":{"name":"cells"},
   "layer":[
    {"mark":{"type":"bar","stroke":"#404040","strokeWidth":0.8},
     "encoding":{
      "y":{"field":"cell","type":"nominal","sort":["CD4+ T Cell","HSPC","PMN","KG1a","HL-60"],"scale":{"paddingInner":0.478,"paddingOuter":0.247},"axis":{"orient":"left","title":null,"domain":false,"ticks":false,"labelFontSize":12.5,"labelFontWeight":"bold","labelColor":"black","labelPadding":12}},
      "yOffset":{"field":"shear","type":"nominal","sort":["100s-1","800s-1"]},
      "x":{"field":"mi","type":"quantitative","scale":{"domain":[-0.5,0.5],"nice":false},"axis":{"title":"Migration Index","values":[-0.5,-0.25,0,0.25,0.5],"labelExpr":"replace(format(datum.value,'.2f'),'−','-')","domain":false,"ticks":false,"labelFontSize":11,"labelFontWeight":"bold","labelColor":"black","labelPadding":5,"titleFontSize":16,"titleFontWeight":"bold","titleColor":"black","titlePadding":3}},
      "color":{"field":"shear","type":"nominal","scale":{"domain":["100s-1","800s-1"],"range":["#C8702F","#3A5BBF"]},"legend":{"orient":"none","legendX":126,"legendY":3,"title":null,"symbolType":"square","symbolSize":40,"symbolStrokeColor":"#333","symbolStrokeWidth":0.8,"labelFontSize":12,"labelColor":"black","rowPadding":2,"labelOffset":2}}}},
    {"mark":{"type":"rule","color":"black","strokeWidth":1},
     "encoding":{
      "y":{"field":"cell","type":"nominal","sort":["CD4+ T Cell","HSPC","PMN","KG1a","HL-60"],"axis":{"orient":"left","offset":-92,"title":null,"labels":false,"domain":false,"ticks":true,"tickBand":"extent","tickSize":7,"tickColor":"black","tickWidth":1}},
      "yOffset":{"field":"shear","type":"nominal","sort":["100s-1","800s-1"]},
      "x":{"field":"milo","type":"quantitative"},"x2":{"field":"mihi"}}},
    {"mark":{"type":"tick","color":"black","thickness":1,"size":7},
     "encoding":{"y":{"field":"cell","type":"nominal","sort":["CD4+ T Cell","HSPC","PMN","KG1a","HL-60"],"axis":null},"yOffset":{"field":"shear","type":"nominal","sort":["100s-1","800s-1"]},"x":{"field":"milo","type":"quantitative"}}},
    {"mark":{"type":"tick","color":"black","thickness":1,"size":7},
     "encoding":{"y":{"field":"cell","type":"nominal","sort":["CD4+ T Cell","HSPC","PMN","KG1a","HL-60"],"axis":null},"yOffset":{"field":"shear","type":"nominal","sort":["100s-1","800s-1"]},"x":{"field":"mihi","type":"quantitative"}}},
    {"mark":{"type":"text","align":"left","baseline":"alphabetic","dx":2,"dy":10,"fontSize":20,"fontWeight":"bold","color":"black"},
     "encoding":{"y":{"field":"cell","type":"nominal","sort":["CD4+ T Cell","HSPC","PMN","KG1a","HL-60"],"axis":null},"yOffset":{"field":"shear","type":"nominal","sort":["100s-1","800s-1"]},"x":{"field":"mihi","type":"quantitative"},"text":{"field":"star"}}},
    {"data":{"values":[{}]},"mark":{"type":"rule","color":"black","strokeWidth":1},"encoding":{"x":{"datum":0}}}
   ],
   "resolve":{"axis":{"y":"independent"}}},
  {"width":295,"height":184,"view":{"stroke":"#999"},
   "title":{"text":"C","anchor":"start","frame":"group","dx":-60,"dy":12,"baseline":"alphabetic","fontSize":17,"fontWeight":"bold","font":"Liberation Sans","offset":0},
   "data":{"name":"cells"},
   "layer":[
    {"mark":{"type":"bar","stroke":"#404040","strokeWidth":0.8},
     "encoding":{
      "x":{"field":"cell","type":"nominal","sort":["CD4+ T Cell","HSPC","PMN","KG1a","HL-60"],"scale":{"paddingInner":0.475,"paddingOuter":0.237},"axis":{"title":null,"labelAngle":0,"labelFontSize":12.5,"labelFontWeight":"bold","labelColor":"black","domainColor":"black","tickColor":"black","tickBand":"extent","tickSize":5,"labelPadding":5}},
      "xOffset":{"field":"shear","type":"nominal","sort":["100s-1","800s-1"]},
      "y":{"field":"pct","type":"quantitative","scale":{"domain":[0,100],"nice":false},"axis":{"title":"Cells Migrating Upstream (%)","titleX":-31,"titleY":88,"values":[0,20,40,60,80,100],"tickCount":6,"labelOverlap":false,"labelFlush":false,"labelFontSize":12,"labelFontWeight":"bold","labelColor":"black","domainColor":"black","tickColor":"black","tickSize":5,"labelPadding":7,"titleFontSize":13,"titleFontWeight":"normal","titleColor":"black"}},
      "color":{"field":"shear","type":"nominal","scale":{"domain":["100s-1","800s-1"],"range":["#C8702F","#3A5BBF"]},"legend":{"orient":"none","legendX":240,"legendY":3,"title":null,"symbolType":"square","symbolSize":45,"symbolStrokeColor":"#333","symbolStrokeWidth":0.8,"labelFontSize":12,"labelFontWeight":"bold","labelColor":"black","rowPadding":3,"labelOffset":2}}}},
    {"mark":{"type":"rule","color":"black","strokeWidth":1},
     "encoding":{"x":{"field":"cell","type":"nominal","sort":["CD4+ T Cell","HSPC","PMN","KG1a","HL-60"]},"xOffset":{"field":"shear","type":"nominal","sort":["100s-1","800s-1"]},"y":{"field":"pctlo","type":"quantitative","axis":{"values":[0,20,40,60,80,100],"labelOverlap":false}},"y2":{"field":"pcthi"}}},
    {"mark":{"type":"tick","color":"black","thickness":1,"size":7},
     "encoding":{"x":{"field":"cell","type":"nominal","sort":["CD4+ T Cell","HSPC","PMN","KG1a","HL-60"]},"xOffset":{"field":"shear","type":"nominal","sort":["100s-1","800s-1"]},"y":{"field":"pctlo","type":"quantitative","axis":{"values":[0,20,40,60,80,100],"labelOverlap":false}}}},
    {"mark":{"type":"tick","color":"black","thickness":1,"size":7},
     "encoding":{"x":{"field":"cell","type":"nominal","sort":["CD4+ T Cell","HSPC","PMN","KG1a","HL-60"]},"xOffset":{"field":"shear","type":"nominal","sort":["100s-1","800s-1"]},"y":{"field":"pcthi","type":"quantitative","axis":{"values":[0,20,40,60,80,100],"labelOverlap":false}}}},
    {"mark":{"type":"text","align":"center","baseline":"alphabetic","dy":7,"fontSize":20,"fontWeight":"bold","color":"black"},
     "encoding":{"x":{"field":"cell","type":"nominal","sort":["CD4+ T Cell","HSPC","PMN","KG1a","HL-60"]},"xOffset":{"field":"shear","type":"nominal","sort":["100s-1","800s-1"]},"y":{"field":"pcthi","type":"quantitative","axis":{"values":[0,20,40,60,80,100],"labelOverlap":false}},"text":{"field":"star"}}}
   ]}
],"spacing":77,"bounds":"flush","resolve":{"scale":{"color":"independent"},"legend":{"color":"independent"}}}
],
"spacing":-2,
"resolve":{"scale":{"color":"independent"},"legend":{"color":"independent"}}
}
